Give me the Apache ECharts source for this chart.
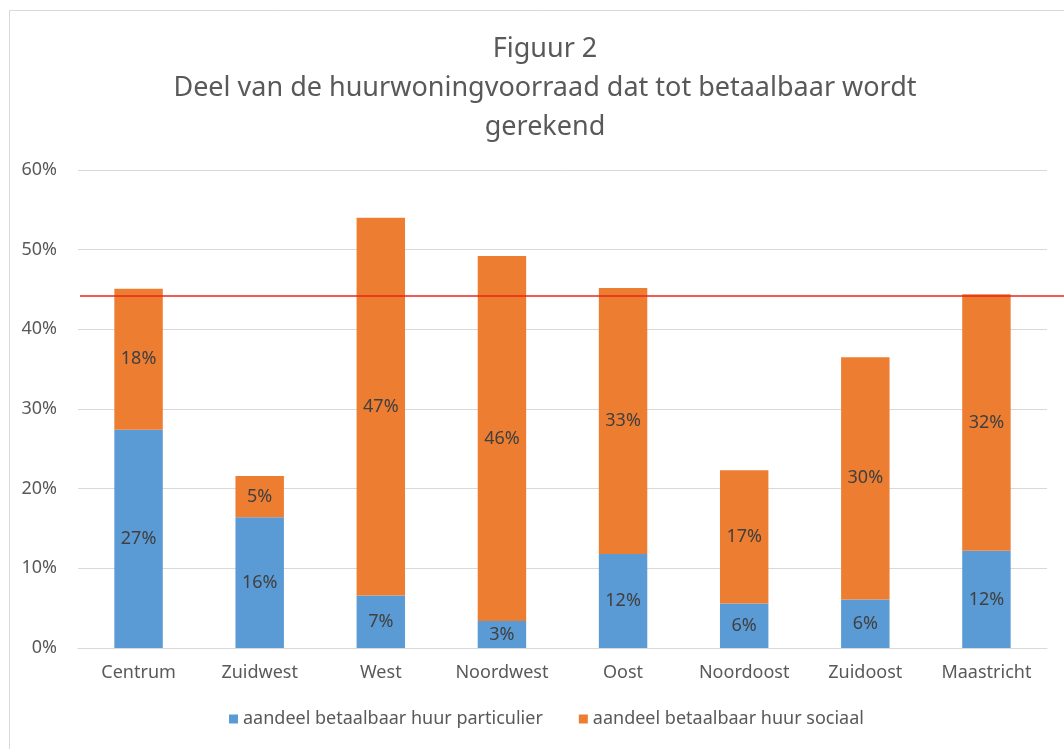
<!DOCTYPE html>
<html>
<head>
<meta charset="utf-8">
<script src="https://cdn.jsdelivr.net/npm/echarts@6/dist/echarts.min.js"></script>
<style>
  html, body { margin: 0; padding: 0; background: #fff; }
  #chart { width: 1064px; height: 749px; }
</style>
</head>
<body>
<div id="chart"></div>
<script>
const categories = ['Centrum', 'Zuidwest', 'West', 'Noordwest', 'Oost', 'Noordoost', 'Zuidoost', 'Maastricht'];
const particulier = [27.4, 16.4, 6.6, 3.4, 11.8, 5.6, 6.1, 12.2];
const sociaal = [17.7, 5.2, 47.4, 45.8, 33.4, 16.7, 30.4, 32.2];
const yTicks = [0, 10, 20, 30, 40, 50, 60];
const referenceLine = 44.2;
const seriesNames = ['aandeel betaalbaar huur particulier', 'aandeel betaalbaar huur sociaal'];

const FONT = 'Noto Sans';
const chart = echarts.init(document.getElementById('chart'));
const labelStyle = {
  show: true,
  position: 'inside',
  color: '#404040',
  fontFamily: FONT,
  fontSize: 18,
  formatter: p => Math.round(p.value) + '%'
};

chart.setOption({
  animation: false,
  backgroundColor: '#fff',
  title: {
    text: 'Figuur 2\nDeel van de huurwoningvoorraad dat tot betaalbaar wordt\ngerekend',
    left: 540,
    top: 25,
    textAlign: 'center',
    textStyle: {
      fontFamily: FONT,
      fontSize: 27,
      fontWeight: 'normal',
      color: '#595959',
      lineHeight: 39
    }
  },
  legend: {
    bottom: 16,
    left: 224,
    itemWidth: 9,
    itemHeight: 9,
    itemGap: 36,
    icon: 'rect',
    textStyle: { fontFamily: FONT, fontSize: 18, color: '#595959' },
    data: seriesNames
  },
  grid: { left: 78, right: 17, top: 170, bottom: 101 },
  xAxis: {
    type: 'category',
    data: categories,
    axisTick: { show: false },
    axisLine: { lineStyle: { color: '#d9d9d9' } },
    axisLabel: { fontFamily: FONT, fontSize: 18, color: '#595959', margin: 16 }
  },
  yAxis: {
    type: 'value',
    min: yTicks[0],
    max: yTicks[yTicks.length - 1],
    interval: 10,
    axisLine: { show: false },
    axisTick: { show: false },
    splitLine: { lineStyle: { color: '#d9d9d9' } },
    axisLabel: { fontFamily: FONT, fontSize: 18, color: '#595959', margin: 21, formatter: v => v + '%' }
  },
  graphic: [{
    type: 'rect',
    silent: true,
    shape: { x: 9.5, y: 10.5, width: 1200, height: 1000 },
    style: { fill: 'none', stroke: '#d9d9d9', lineWidth: 1 }
  }],
  series: [
    {
      name: seriesNames[0],
      type: 'bar',
      stack: 'total',
      barCategoryGap: '60%',
      data: particulier,
      itemStyle: { color: '#5B9BD5' },
      label: labelStyle
    },
    {
      name: seriesNames[1],
      type: 'bar',
      stack: 'total',
      barCategoryGap: '60%',
      data: sociaal,
      itemStyle: { color: '#ED7D31' },
      label: labelStyle,
      markLine: {
        silent: true,
        symbol: 'none',
        label: { show: false },
        lineStyle: { color: '#E8261C', width: 1.5, type: 'solid' },
        data: [[
          { coord: [categories[0], referenceLine], x: 80 },
          { coord: [categories[categories.length - 1], referenceLine], x: 1064 }
        ]]
      }
    }
  ]
});
</script>
</body>
</html>
